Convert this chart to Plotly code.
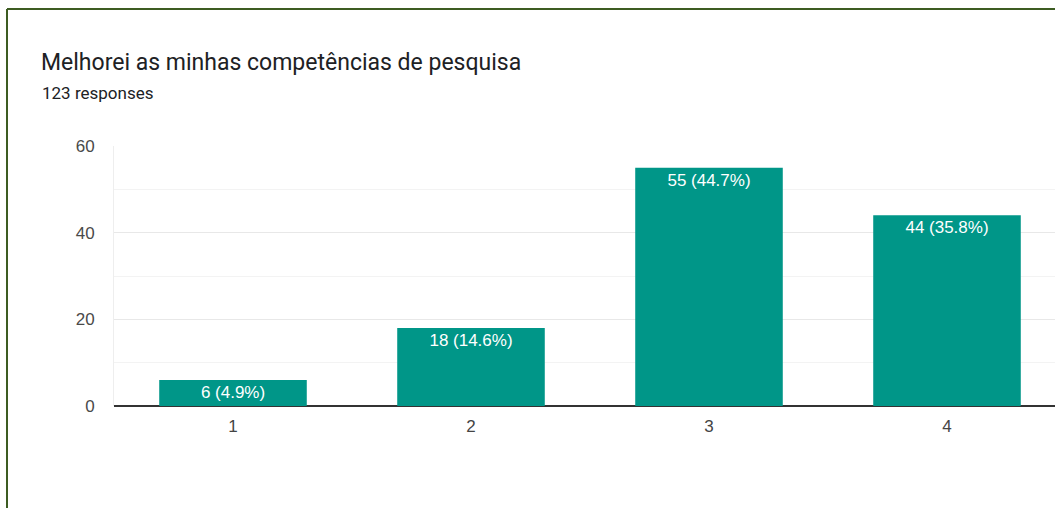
import plotly.graph_objects as go

categories = ["1", "2", "3", "4"]
counts = [6, 18, 55, 44]
percents = ["4.9%", "14.6%", "44.7%", "35.8%"]
y_ticks = [0, 20, 40, 60]
title_text = "Melhorei as minhas competências de pesquisa"
subtitle_text = "123 responses"

W, H = 1055, 508
L, R, T, B = 114, 0, 146, 102
pw = W - L - R
ph = H - T - B

def px_x(p):
    return (p - L) / pw

def px_y(p):
    return (H - B - p) / ph

labels = [f"{c} ({p})" for c, p in zip(counts, percents)]

fig = go.Figure(go.Bar(
    x=categories, y=counts, text=labels,
    textposition="inside", insidetextanchor="end",
    textfont=dict(color="white", size=17, family="Liberation Sans, Arial, sans-serif"),
    marker=dict(color="#009688", line=dict(width=0)),
    width=0.62, hoverinfo="skip",
))

fig.update_layout(
    width=W, height=H,
    margin=dict(l=L, r=R, t=T, b=B),
    paper_bgcolor="white", plot_bgcolor="white",
    showlegend=False,
    uniformtext=dict(minsize=17, mode="show"),
    font=dict(family="Liberation Sans, Arial, sans-serif", color="#444444", size=17),
)
fig.update_xaxes(
    type="category", range=[-0.5, -0.5 + (W - L - R) / 238.0],
    showgrid=False, zeroline=False,
    ticks="outside", ticklen=5, tickcolor="rgba(0,0,0,0)",
    tickfont=dict(size=17, color="#444444"),
    fixedrange=True,
)
fig.update_yaxes(
    range=[0, 60], tickvals=y_ticks,
    showgrid=True, gridcolor="#e8e8e8", gridwidth=1,
    minor=dict(dtick=10, tick0=0, showgrid=True, gridcolor="#f3f3f3", gridwidth=1),
    zeroline=True, zerolinecolor="#333333", zerolinewidth=2,
    showline=True, linecolor="#eeeeee", linewidth=1,
    ticks="outside", ticklen=15, tickcolor="rgba(0,0,0,0)",
    tickfont=dict(size=17, color="#4a4a4a"),
    fixedrange=True,
)

fig.add_annotation(
    text=title_text, xref="paper", yref="paper",
    x=px_x(39), y=px_y(62), xanchor="left", yanchor="middle",
    showarrow=False, font=dict(family="Roboto, sans-serif", size=23, color="#202124"),
)
fig.add_annotation(
    text=subtitle_text, xref="paper", yref="paper",
    x=px_x(40), y=px_y(93), xanchor="left", yanchor="middle",
    showarrow=False, font=dict(family="Roboto, sans-serif", size=17, color="#202124"),
)

border = "#3d5c22"
fig.add_shape(type="line", xref="paper", yref="paper",
              x0=px_x(7), x1=px_x(W + 20), y0=px_y(9), y1=px_y(9),
              line=dict(color=border, width=2))
fig.add_shape(type="line", xref="paper", yref="paper",
              x0=px_x(7), x1=px_x(7), y0=px_y(9), y1=px_y(H + 20),
              line=dict(color=border, width=2))

fig.write_html("out.html", config={"displayModeBar": False},
               post_script="document.body.style.margin='0';")
